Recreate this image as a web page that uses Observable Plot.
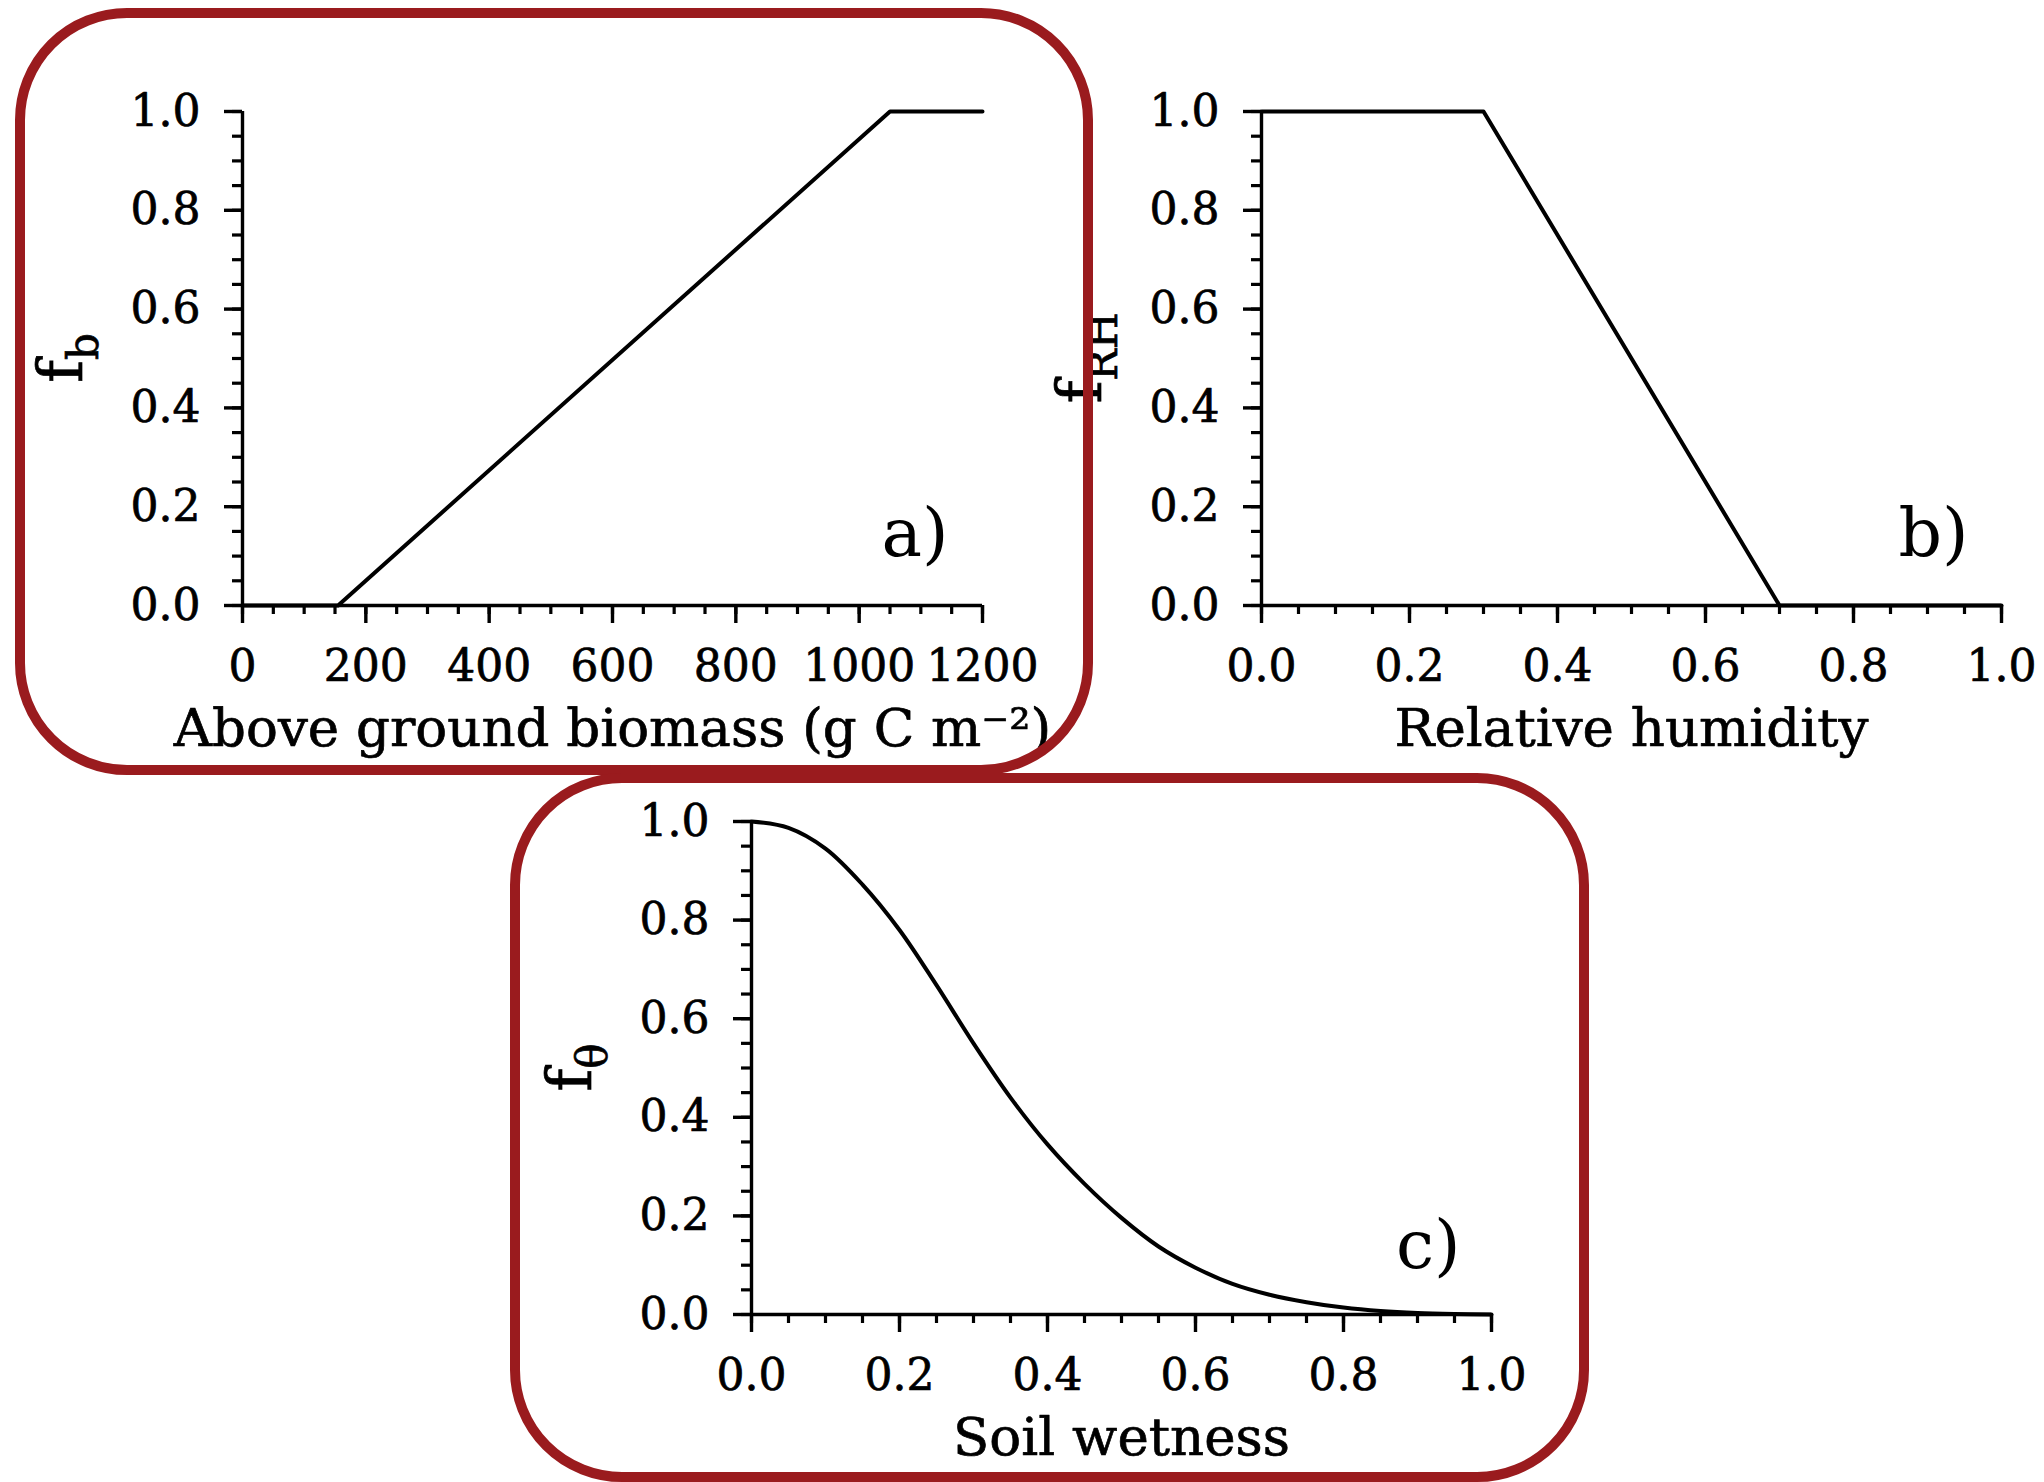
<!DOCTYPE html>
<html>
<head>
<meta charset="utf-8">
<script src="https://cdn.jsdelivr.net/npm/d3@7"></script>
<script src="https://cdn.jsdelivr.net/npm/@observablehq/plot@0.6"></script>
<style>
  html, body { margin: 0; padding: 0; background: #fff; }
  #root { position: relative; width: 2044px; height: 1482px; background: #fff; overflow: hidden; }
  .panel { position: absolute; }
  .box { position: absolute; box-sizing: border-box; border: 10px solid #9a1b1e; border-radius: 112px; background: transparent; pointer-events: none; }
</style>
</head>
<body>
<div id="root"></div>
<script>
// ---- Data ----
// Panel a: above ground biomass vs f_b
const biomass = [0, 155, 1050, 1200];
const fb = [0, 0, 1, 1];
// Panel b: relative humidity vs f_RH
const humidity = [0, 0.3, 0.7, 1.0];
const fRH = [1, 1, 0, 0];
// Panel c: soil wetness vs f_theta
const wetness = [0, 0.05, 0.10, 0.15, 0.20, 0.25, 0.30, 0.35, 0.40, 0.45, 0.50, 0.55, 0.60, 0.65, 0.70, 0.75, 0.80, 0.85, 0.90, 0.95, 1.0];
const ftheta  = [1.0, 0.987, 0.945, 0.872, 0.78, 0.668, 0.55, 0.44, 0.345, 0.265, 0.196, 0.138, 0.095, 0.062, 0.040, 0.025, 0.014, 0.007, 0.003, 0.001, 0];

// Tick labels
const biomassTicks = [0, 200, 400, 600, 800, 1000, 1200];
const unitTicks = [0, 0.2, 0.4, 0.6, 0.8, 1.0];
const biomassMinor = d3.range(0, 1201, 50);
const unitMinor = d3.range(0, 1.0001, 0.05);

const FONT = "DejaVu Serif";

function panel({left, top, width, height, ml, mt, mr, mb, xDomain, xTicks, xMinor, xFormat,
                xs, ys, curve, title, ySub, letter, letterDx, letterDy}) {
  const data = xs.map((x, i) => ({x, y: ys[i]}));
  const chart = Plot.plot({
    width, height,
    marginLeft: ml, marginTop: mt, marginRight: mr, marginBottom: mb,
    x: {domain: xDomain, label: null},
    y: {domain: [0, 1], label: null},
    style: {fontFamily: FONT, fontSize: "44px", background: "transparent", overflow: "visible", color: "#000"},
    marks: [
      Plot.axisX({ticks: xMinor, tickSize: 9, fill: "none", stroke: "#000", strokeWidth: 3.2, label: null}),
      Plot.axisY({ticks: unitMinor, tickSize: 10, fill: "none", stroke: "#000", strokeWidth: 3.2, label: null}),
      Plot.axisX({ticks: xTicks, tickSize: 18, tickPadding: 26, tickFormat: xFormat, stroke: "#000", strokeWidth: 3.4,
                  fill: "#000", textStroke: "#000", textStrokeWidth: 0.7, fontSize: 44, label: null}),
      Plot.axisY({ticks: unitTicks, tickSize: 18, tickPadding: 24, tickFormat: d3.format(".1f"), stroke: "#000", strokeWidth: 3.4,
                  fill: "#000", textStroke: "#000", textStrokeWidth: 0.7, fontSize: 44, label: null}),
      Plot.ruleY([0], {stroke: "#000", strokeWidth: 3.4}),
      Plot.ruleX([xDomain[0]], {stroke: "#000", strokeWidth: 3.4}),
      Plot.line(data, {x: "x", y: "y", stroke: "#000", strokeWidth: 4, curve}),
      Plot.text([title], {text: d => d, frameAnchor: "bottom", lineAnchor: "bottom", dy: 140, fontSize: 53, fill: "#000",
                          stroke: "#000", strokeWidth: 0.7}),
      Plot.text([letter], {text: d => d, frameAnchor: "bottom-right", textAnchor: "end", lineAnchor: "bottom",
                           dx: letterDx, dy: letterDy, fontSize: 68, fill: "#000"})
    ]
  });
  // y-axis title with subscript
  const fh = height - mt - mb;
  const t = d3.select(chart).append("text")
    .attr("transform", `translate(${ml - 160},${mt + fh / 2}) rotate(-90)`)
    .attr("text-anchor", "middle")
    .attr("font-family", FONT)
    .attr("font-size", 62)
    .attr("fill", "#000")
    .attr("stroke", "#000")
    .attr("stroke-width", 0.7);
  t.append("tspan").text("f");
  t.append("tspan").attr("dy", 16).attr("font-size", 42).text(ySub);

  const wrap = document.createElement("div");
  wrap.className = "panel";
  wrap.style.left = left + "px";
  wrap.style.top = top + "px";
  wrap.appendChild(chart);
  document.getElementById("root").appendChild(wrap);
}

panel({left: 0, top: 0, width: 1100, height: 790, ml: 242, mt: 111, mr: 118, mb: 185,
  xDomain: [0, 1200], xTicks: biomassTicks, xMinor: biomassMinor, xFormat: d3.format("d"),
  xs: biomass, ys: fb, curve: "linear", title: "Above ground biomass (g C m⁻²)", ySub: "b",
  letter: "a)", letterDx: -34, letterDy: -50});

panel({left: 1000, top: 0, width: 1044, height: 790, ml: 261, mt: 111, mr: 43, mb: 185,
  xDomain: [0, 1], xTicks: unitTicks, xMinor: unitMinor, xFormat: d3.format(".1f"),
  xs: humidity, ys: fRH, curve: "linear", title: "Relative humidity", ySub: "RH",
  letter: "b)", letterDx: -33, letterDy: -50});

panel({left: 500, top: 710, width: 1100, height: 772, ml: 251, mt: 111, mr: 109, mb: 168,
  xDomain: [0, 1], xTicks: unitTicks, xMinor: unitMinor, xFormat: d3.format(".1f"),
  xs: wetness, ys: ftheta, curve: "catmull-rom", title: "Soil wetness", ySub: "θ",
  letter: "c)", letterDx: -31, letterDy: -47});

// Decorative rounded frames
function box(l, t, w, h) {
  const d = document.createElement("div");
  d.className = "box";
  d.style.left = l + "px"; d.style.top = t + "px";
  d.style.width = w + "px"; d.style.height = h + "px";
  document.getElementById("root").appendChild(d);
}
box(15, 8, 1078, 767);
box(510, 773, 1079, 709);
</script>
</body>
</html>
